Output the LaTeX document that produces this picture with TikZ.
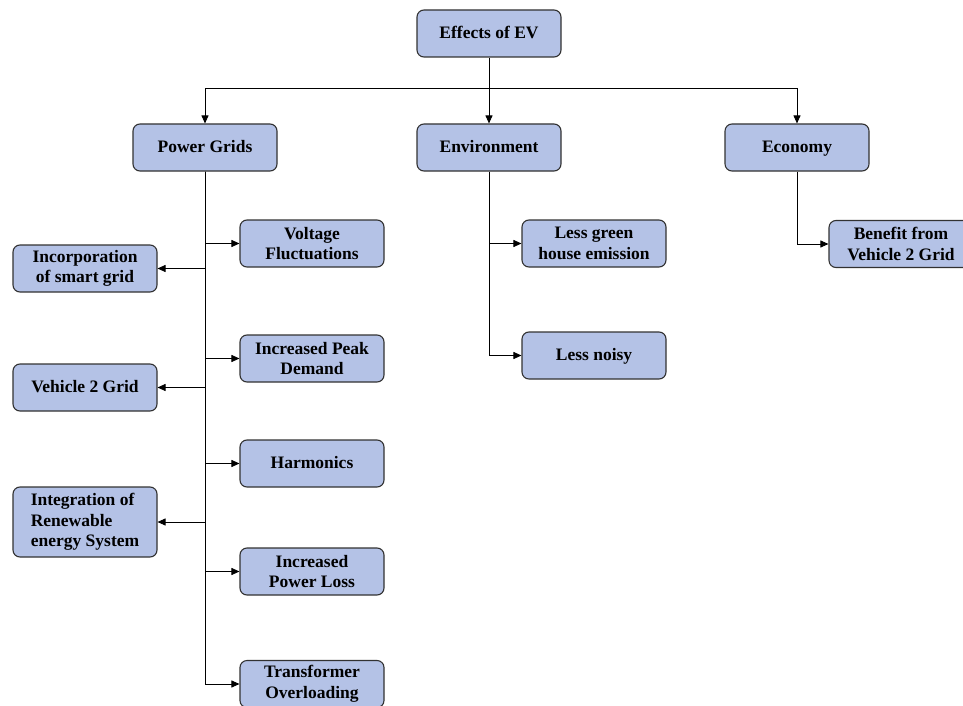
\documentclass[tikz,border=0pt]{standalone}
\usepackage{fontspec}
\setmainfont{Liberation Serif}
\usetikzlibrary{arrows.meta}
\definecolor{boxfill}{RGB}{180,194,230}
\definecolor{boxline}{RGB}{50,50,50}
\begin{document}
\begin{tikzpicture}[x=1pt,y=-1pt,
  box/.style={draw=boxline, line width=1.1pt, fill=boxfill, rounded corners=7pt,
    minimum width=144pt, minimum height=47pt, inner sep=0pt, align=center,
    font=\fontsize{17.5}{20.5}\selectfont\bfseries},
  one/.style={box, text height=13pt, text depth=3pt},
  conn/.style={line width=0.9pt, draw=black},
  arr/.style={conn, -{Triangle[length=8pt,width=7pt]}}]
\useasboundingbox (0,0) rectangle (963,706);
\node[one] (ev) at (489,33.5) {Effects of EV};
\node[one] (pg) at (205,147.5) {Power Grids};
\node[one] (env) at (489,147.5) {Environment};
\node[one] (eco) at (797,147.5) {Economy};
\coordinate (j) at (489,88);
\draw[conn] (ev.south) -- (j);
\draw[arr] (j) -| (pg.north);
\draw[arr] (j) -- (env.north);
\draw[arr] (j) -| (eco.north);
% power grids right
\node[box] (vf) at (312,243.5) {Voltage\\Fluctuations};
\node[box] (ipd) at (312,358.5) {Increased Peak\\Demand};
\node[one] (har) at (312,463.5) {Harmonics};
\node[box] (ipl) at (312,571.5) {Increased\\Power Loss};
\node[box] (to) at (312,684) {Transformer\\Overloading};
% power grids left
\node[box] (isg) at (85,268.5) {Incorporation\\of smart grid};
\node[one] (v2g) at (85,387.5) {Vehicle 2 Grid};
\node[box, minimum height=70pt, align=left] (ires) at (85,522) {Integration of\\Renewable\\energy System};
\foreach \n in {vf,ipd,har,ipl,to} \draw[arr] (pg.south) |- (\n.west);
\foreach \n in {isg,v2g,ires} \draw[arr] (pg.south) |- (\n.east);
% environment
\node[box] (lg) at (594,243.5) {Less green\\house emission};
\node[one] (ln) at (594,355.5) {Less noisy};
\draw[arr] (env.south) |- (lg.west);
\draw[arr] (env.south) |- (ln.west);
% economy
\node[box] (bv) at (901,244) {Benefit from\\Vehicle 2 Grid};
\draw[arr] (eco.south) |- (bv.west);
\end{tikzpicture}
\end{document}
